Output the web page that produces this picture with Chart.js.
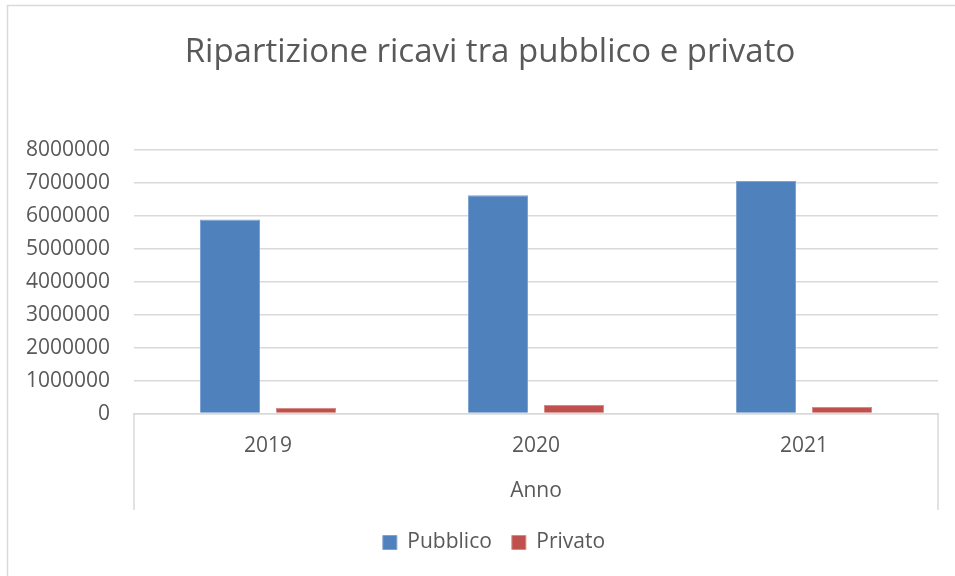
<!DOCTYPE html>
<html>
<head>
<meta charset="utf-8">
<script src="https://cdn.jsdelivr.net/npm/chart.js@4"></script>
<style>
  html, body { margin: 0; padding: 0; background: #ffffff; }
  #wrap { width: 955px; height: 576px; }
</style>
</head>
<body>
<div id="wrap"><canvas id="ricavi-chart" width="955" height="576"></canvas></div>
<script>
// Data
const anni = ['2019', '2020', '2021'];
const pubblico = [5880000, 6620000, 7050000];
const privato = [170000, 260000, 200000];
const yTicks = [0, 1000000, 2000000, 3000000, 4000000, 5000000, 6000000, 7000000, 8000000];

const textColor = '#595959';
const lineColor = '#d9d9d9';
const fontFamily = "'Open Sans', 'Liberation Sans', sans-serif";

// Excel-style frame: outer border and the box under the category axis
const framePlugin = {
  id: 'frame',
  afterLayout(chart) {
    // Excel centres title and legend on the whole chart box, not the plot
    chart.titleBlock.left += 16;
    chart.titleBlock.right += 16;
    chart.legend.left += 20;
    chart.legend.right += 20;
  },
  afterDraw(chart) {
    const ctx = chart.ctx;
    const area = chart.chartArea;
    ctx.save();
    ctx.strokeStyle = lineColor;
    ctx.lineWidth = 1.5;
    // outer border (top + left visible)
    ctx.beginPath();
    ctx.moveTo(7.5, 600);
    ctx.lineTo(7.5, 5.5);
    ctx.lineTo(960, 5.5);
    ctx.stroke();
    // category axis box
    ctx.beginPath();
    ctx.moveTo(area.left, area.bottom);
    ctx.lineTo(area.left, 510);
    ctx.moveTo(area.right, area.bottom);
    ctx.lineTo(area.right, 510);
    ctx.stroke();
    ctx.restore();
  },
};

const ricaviCanvas = document.getElementById('ricavi-chart');

let ricaviChart = new Chart(ricaviCanvas, {
  type: 'bar',
  data: {
    labels: anni,
    datasets: [
      {
        label: 'Pubblico',
        data: pubblico,
        backgroundColor: '#4f81bd',
        borderColor: '#7fa3d1',
        borderWidth: 1,
        borderSkipped: 'bottom',
      },
      {
        label: 'Privato',
        data: privato,
        backgroundColor: '#c0504d',
        borderColor: '#d78b89',
        borderWidth: 1,
        borderSkipped: 'bottom',
      },
    ],
  },
  options: {
    responsive: false,
    animation: false,
    categoryPercentage: 0.567,
    barPercentage: 0.79,
    layout: {
      padding: { left: 10, right: 17, top: 0, bottom: 13 },
    },
    plugins: {
      title: {
        display: true,
        text: 'Ripartizione ricavi tra pubblico e privato',
        color: textColor,
        font: { family: fontFamily, size: 33, weight: 'normal' },
        padding: { top: 33, bottom: 77 },
      },
      legend: {
        position: 'bottom',
        labels: {
          color: textColor,
          font: { family: fontFamily, size: 21 },
          boxWidth: 14,
          boxHeight: 14,
          padding: 20,
        },
      },
      tooltip: { enabled: false },
    },
    scales: {
      x: {
        grid: { display: false },
        border: { display: true, color: lineColor, width: 1.5 },
        ticks: {
          color: textColor,
          font: { family: fontFamily, size: 21 },
          padding: 12,
        },
        title: {
          display: true,
          text: 'Anno',
          color: textColor,
          font: { family: fontFamily, size: 21 },
          padding: { top: 8, bottom: 8 },
        },
      },
      y: {
        min: 0,
        max: 8000000,
        afterBuildTicks(scale) {
          scale.ticks = yTicks.map((v) => ({ value: v }));
        },
        afterFit(scale) {
          scale.width = 124;
        },
        grid: { color: lineColor, lineWidth: 1.5, drawTicks: false },
        border: { display: false },
        ticks: {
          color: textColor,
          font: { family: fontFamily, size: 21 },
          padding: 24,
          callback: (v) => String(v),
        },
      },
    },
  },
  plugins: [framePlugin],
});
</script>
</body>
</html>
